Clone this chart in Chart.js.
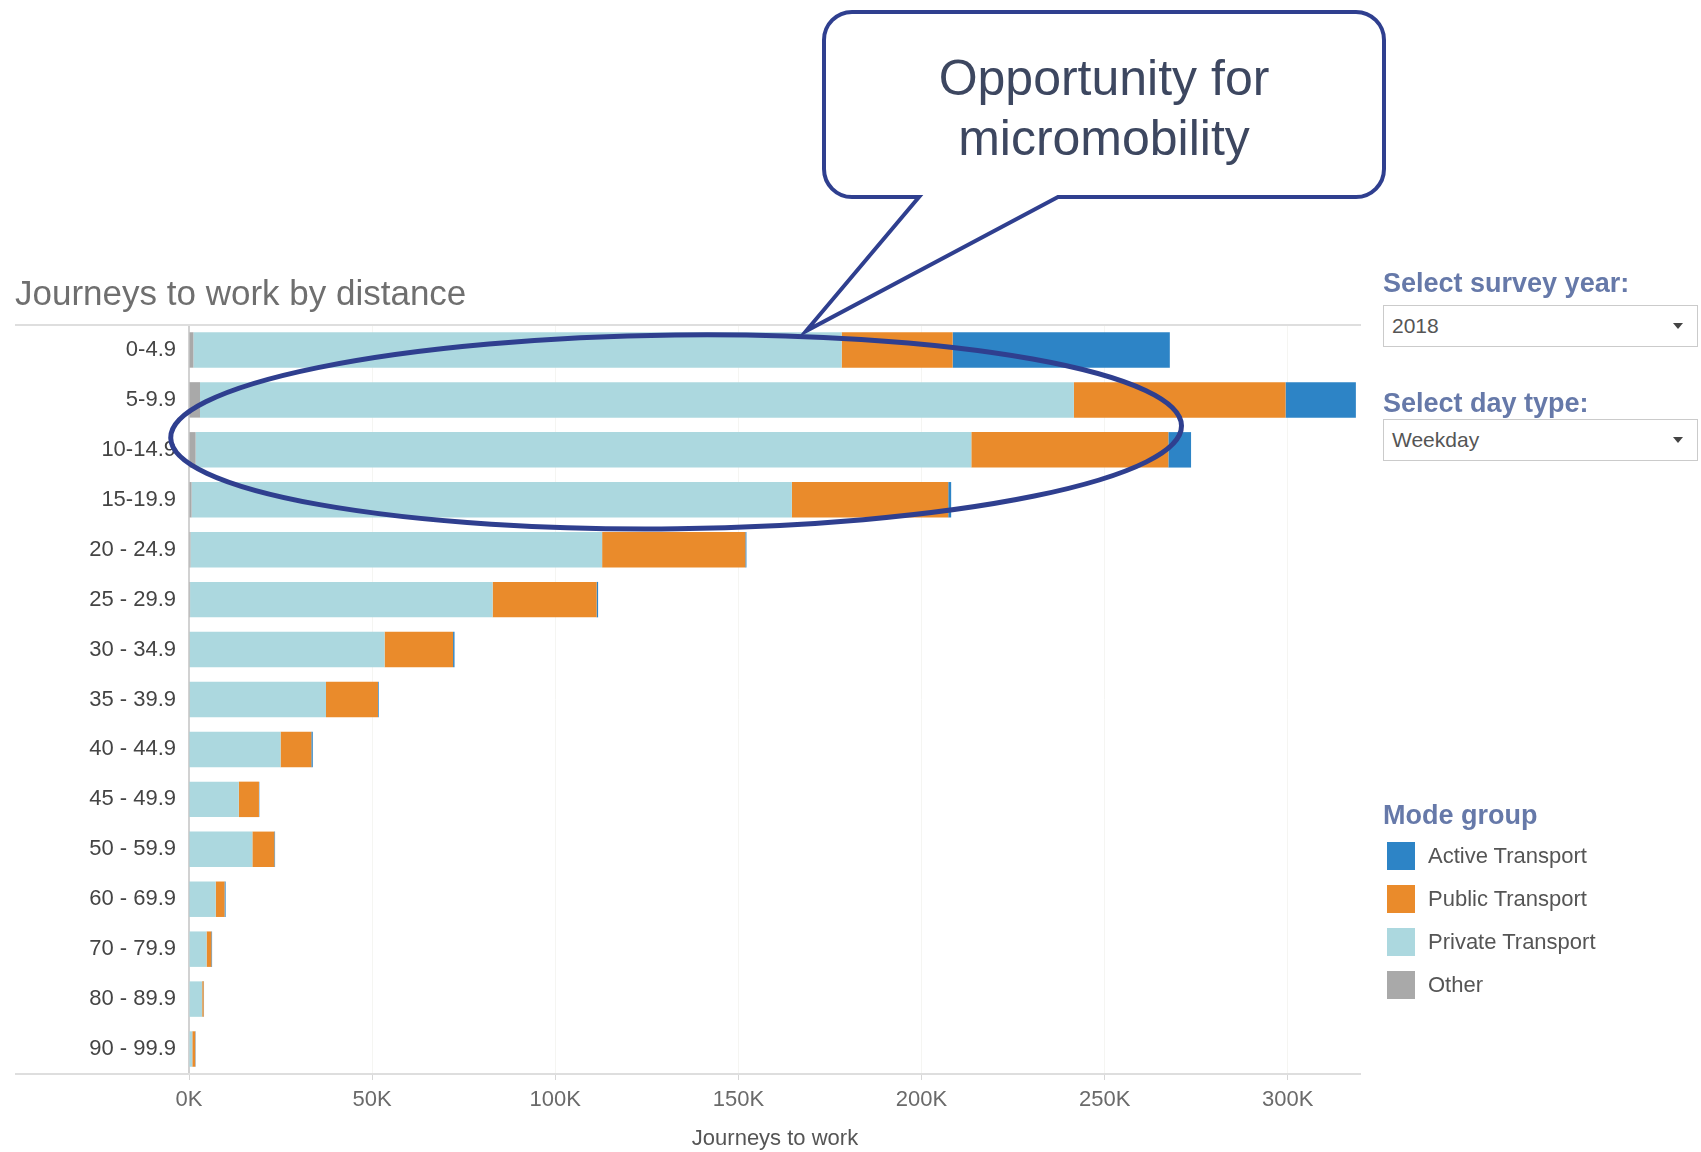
<!DOCTYPE html>
<html>
<head>
<meta charset="utf-8">
<title>Journeys to work by distance</title>
<script src="https://cdn.jsdelivr.net/npm/chart.js@4.4.0/dist/chart.umd.min.js"></script>
<style>
  html, body { margin: 0; padding: 0; background: #fff; }
  body { width: 1701px; height: 1152px; position: relative; overflow: hidden; font-family: 'Liberation Sans', Arial, sans-serif; }
  #chart { position: absolute; left: 0; top: 0; }
  .abs { position: absolute; white-space: nowrap; }
  #title { left: 15px; top: 275px; font-size: 35px; line-height: 35px; color: #6f6f6f; }
  #callout { left: 824px; width: 560px; top: 48px; font-size: 50px; line-height: 60px; text-align: center; color: #3d4760; }
  .filter-label { left: 1383px; font-size: 27px; line-height: 27px; font-weight: bold; color: #6679a9; }
  .select { left: 1383px; width: 313px; height: 40px; border: 1px solid #cbcbcb; background: #fff;
            font-size: 21px; line-height: 40px; color: #555; box-sizing: content-box; }
  .select span { padding-left: 8px; }
  .select i { position: absolute; right: 14px; top: 17px; width: 0; height: 0;
              border-left: 5px solid transparent; border-right: 5px solid transparent; border-top: 6px solid #444; }
  #legend-title { left: 1383px; top: 802px; font-size: 27px; line-height: 27px; font-weight: bold; color: #6679a9; }
  .legend-item { left: 1387px; height: 28px; display: flex; align-items: center; font-size: 22px; color: #555; }
  .legend-item b { display: inline-block; width: 28px; height: 28px; margin-right: 13px; }
</style>
</head>
<body>
<canvas id="chart" width="1701" height="1152"></canvas>
<div id="title" class="abs">Journeys to work by distance</div>
<div id="callout" class="abs">Opportunity for<br>micromobility</div>

<div class="abs filter-label" style="top:270px">Select survey year:</div>
<div class="abs select" style="top:305px"><span>2018</span><i></i></div>
<div class="abs filter-label" style="top:390px">Select day type:</div>
<div class="abs select" style="top:419px"><span>Weekday</span><i></i></div>

<div id="legend-title" class="abs">Mode group</div>
<div id="legend"></div>

<script>
// distance bands (km)
const distanceBands = ['0-4.9', '5-9.9', '10-14.9', '15-19.9', '20 - 24.9', '25 - 29.9', '30 - 34.9',
  '35 - 39.9', '40 - 44.9', '45 - 49.9', '50 - 59.9', '60 - 69.9', '70 - 79.9', '80 - 89.9', '90 - 99.9']

// journeys to work per mode group
const otherTrips   = [1200, 3000, 1800, 700, 400, 300, 200, 200, 100, 100, 100, 100, 0, 0, 0]
const privateTrips = [177000, 238600, 211800, 163900, 112400, 82600, 53200, 37200, 24900, 13500, 17200, 7200, 4800, 3600, 900]
const publicTrips  = [30300, 57800, 53800, 42700, 39100, 28400, 18700, 14200, 8400, 5500, 6000, 2400, 1300, 400, 800]
const activeTrips  = [59300, 19200, 6200, 800, 300, 400, 400, 200, 400, 100, 200, 300, 200, 100, 100]

const xTicks = [0, 50000, 100000, 150000, 200000, 250000, 300000]

const colors = {
  active: '#2d84c6',
  public: '#ea8b2b',
  private: '#acd8df',
  other: '#a9a9a9'
}

const navy = '#2f3f8f'

// rules across the plot and the highlight / callout drawn on top
const overlay = {
  id: 'overlay',
  beforeDatasetsDraw(chart) {
    const { ctx, chartArea: a } = chart
    ctx.save()
    ctx.strokeStyle = '#dedede'
    ctx.lineWidth = 2
    ctx.beginPath()
    ctx.moveTo(15, a.top)
    ctx.lineTo(a.right, a.top)
    ctx.moveTo(15, a.bottom)
    ctx.lineTo(a.right, a.bottom)
    ctx.stroke()
    ctx.restore()
  },
  afterDraw(chart) {
    const { ctx } = chart
    const x = chart.scales.x
    const y = chart.scales.y

    // ellipse around the short-distance bands
    const cx = x.getPixelForValue(133000)
    const cy = y.getPixelForValue(1.64)
    const rx = x.getPixelForValue(271000) - cx
    const ry = y.getPixelForValue(3.58) - cy

    ctx.save()
    ctx.strokeStyle = navy
    ctx.lineWidth = 5
    ctx.beginPath()
    ctx.ellipse(cx, cy, rx, ry, -0.012, 0, Math.PI * 2)
    ctx.stroke()

    // speech bubble with its tail pointing at the ellipse
    const left = 824, top = 12, right = 1384, bottom = 197, r = 28
    const gapLeft = 919, gapRight = 1058
    const tipX = 806, tipY = 331

    ctx.beginPath()
    ctx.moveTo(left + r, top)
    ctx.lineTo(right - r, top)
    ctx.arcTo(right, top, right, top + r, r)
    ctx.lineTo(right, bottom - r)
    ctx.arcTo(right, bottom, right - r, bottom, r)
    ctx.lineTo(gapRight, bottom)
    ctx.lineTo(tipX, tipY)
    ctx.lineTo(gapLeft, bottom)
    ctx.lineTo(left + r, bottom)
    ctx.arcTo(left, bottom, left, bottom - r, r)
    ctx.lineTo(left, top + r)
    ctx.arcTo(left, top, left + r, top, r)
    ctx.closePath()
    ctx.fillStyle = '#fff'
    ctx.fill()
    ctx.lineWidth = 4
    ctx.lineJoin = 'miter'
    ctx.stroke()
    ctx.restore()
  }
}

Chart.defaults.font.family = "'Liberation Sans', Arial, sans-serif"

const chart = new Chart(document.getElementById('chart'), {
  type: 'bar',
  data: {
    labels: distanceBands,
    datasets: [
      { label: 'Other', data: otherTrips, backgroundColor: colors.other },
      { label: 'Private Transport', data: privateTrips, backgroundColor: colors.private },
      { label: 'Public Transport', data: publicTrips, backgroundColor: colors.public },
      { label: 'Active Transport', data: activeTrips, backgroundColor: colors.active }
    ]
  },
  options: {
    indexAxis: 'y',
    responsive: false,
    animation: false,
    layout: {
      padding: { left: 15, right: 340, top: 325, bottom: 0 }
    },
    datasets: {
      bar: {
        barPercentage: 0.71,
        categoryPercentage: 1.0,
        borderWidth: 0
      }
    },
    plugins: {
      legend: { display: false },
      tooltip: { enabled: false }
    },
    scales: {
      x: {
        stacked: true,
        min: 0,
        max: 320000,
        afterFit(scale) { scale.height = 78 },
        afterBuildTicks(scale) { scale.ticks = xTicks.map(v => ({ value: v })) },
        grid: {
          color: '#f5f5f2',
          tickColor: '#d6d6d6',
          tickLength: 6
        },
        border: { display: false },
        ticks: {
          padding: 7,
          color: '#6a6a6a',
          font: { size: 22 },
          callback: v => (v / 1000) + 'K'
        },
        title: {
          display: true,
          text: 'Journeys to work',
          color: '#555',
          font: { size: 22 },
          padding: { top: 0, bottom: 0 }
        }
      },
      y: {
        stacked: true,
        afterFit(scale) { scale.width = 174 },
        grid: { display: false },
        border: { display: true, color: '#d2d2d2', width: 2 },
        ticks: {
          padding: 5,
          color: '#444',
          font: { size: 22 }
        }
      }
    }
  },
  plugins: [overlay]
})

// legend, listed from the outermost stack segment inwards
const legend = document.getElementById('legend')
chart.data.datasets.slice().reverse().forEach((ds, i) => {
  const item = document.createElement('div')
  item.className = 'abs legend-item'
  item.style.top = (842 + i * 43) + 'px'
  item.innerHTML = '<b style="background:' + ds.backgroundColor + '"></b>' + ds.label
  legend.appendChild(item)
})
</script>
</body>
</html>
